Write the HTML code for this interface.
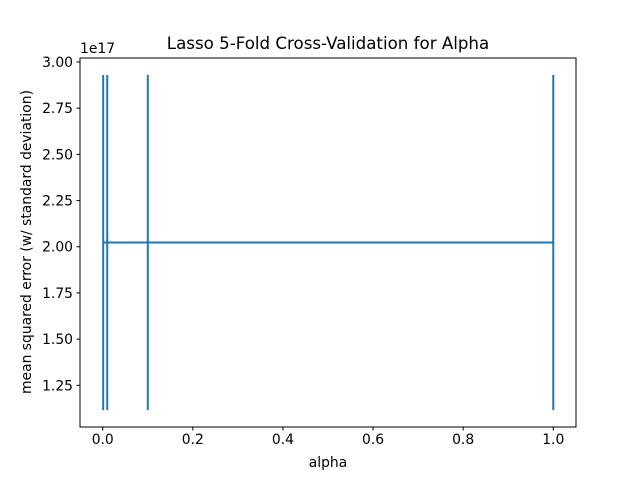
<!DOCTYPE html>
<html><head><meta charset="utf-8"><style>
body{margin:0;background:#fff}
svg{display:block;font-family:"DejaVu Sans","Liberation Sans",sans-serif}
</style></head><body>
<svg id="c" width="640" height="480"></svg>
<script>
const alphas=[0.001,0.01,0.1,1];
const means=[2.023e17,2.023e17,2.023e17,2.023e17];
const stds=[0.9075e17,0.9075e17,0.9075e17,0.9075e17];
const xTicks=[0,0.2,0.4,0.6,0.8,1.0];
const yTicks=[1.25,1.5,1.75,2.0,2.25,2.5,2.75,3.0];
const L=80,R=576,T=58,B=427;
const x0=-0.05045,x1=1.05045,y0=1.0244,y1=3.0216;
const sx=v=>L+(v-x0)/(x1-x0)*(R-L);
const sy=v=>B-(v/1e17-y0)/(y1-y0)*(B-T);
const svg=document.getElementById('c');const NS='http://www.w3.org/2000/svg';
function mk(t,a,txt){const e=document.createElementNS(NS,t);for(const k in a)e.setAttribute(k,a[k]);if(txt!=null)e.textContent=txt;svg.appendChild(e);return e;}
const col='#1f77b4';
let pts=alphas.map((a,i)=>sx(a)+','+sy(means[i])).join(' ');
let ln=mk('polyline',{points:pts,fill:'none',stroke:col,'stroke-width':2});


alphas.forEach((a,i)=>{const e=mk('line',{x1:sx(a),x2:sx(a),y1:sy(means[i]-stds[i]),y2:sy(means[i]+stds[i]),stroke:col,'stroke-width':2});

});
const fr=mk('rect',{x:L,y:T,width:R-L,height:B-T,fill:'none',stroke:'#000','stroke-width':1});


xTicks.forEach(v=>{const X=sx(v);mk('line',{x1:X,x2:X,y1:B,y2:B+3.5,stroke:'#000','stroke-width':1});
const t=mk('text',{x:X,y:B+17,'text-anchor':'middle','font-size':13.89},v.toFixed(1));

});
yTicks.forEach(v=>{const Y=sy(v*1e17);mk('line',{x1:L,x2:L-3.5,y1:Y,y2:Y,stroke:'#000','stroke-width':1});
const t=mk('text',{x:L-7,y:Y+5,'text-anchor':'end','font-size':13.89},v.toFixed(2));

});
let e=mk('text',{x:80,y:53,'font-size':13.89},'1e17');


e=mk('text',{x:328,y:49,'text-anchor':'middle','font-size':16.67},'Lasso 5-Fold Cross-Validation for Alpha');


e=mk('text',{x:328,y:467,'text-anchor':'middle','font-size':13.89},'alpha');


e=mk('text',{x:0,y:0,'text-anchor':'middle','font-size':13.89,transform:'translate(31,242) rotate(-90)'},'mean squared error (w/ standard deviation)');


</script>
</body></html>
